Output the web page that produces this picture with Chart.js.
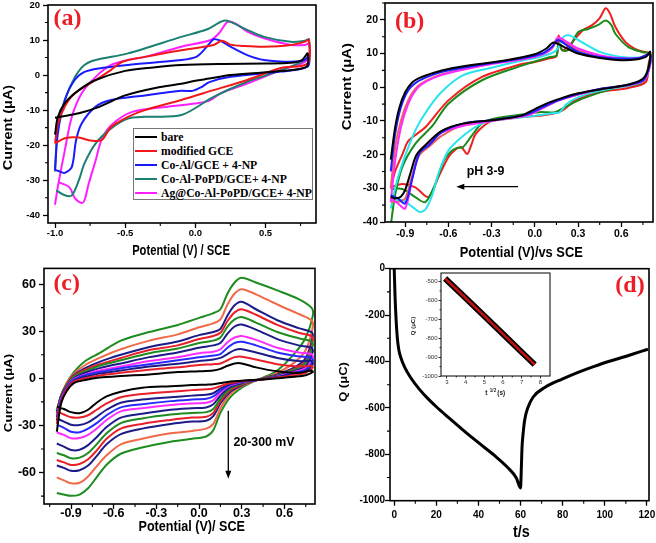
<!DOCTYPE html>
<html>
<head>
<meta charset="utf-8">
<script src="https://cdn.jsdelivr.net/npm/chart.js@4.4.1/dist/chart.umd.min.js"></script>
<style>
  body { margin: 0; background: #fff; width: 656px; height: 543px; position: relative; overflow: hidden; }
  canvas { position: absolute; }
  #legA { position: absolute; left: 133px; top: 128px; width: 180px; height: 72px; border: 1px solid #777;
          background: #fff; font: bold 11.7px "Liberation Serif", serif; color: #000; box-sizing: border-box; padding-top: 1px; }
  #legA .row { display: flex; align-items: center; height: 14px; white-space: nowrap; }
  #legA .sw { width: 22px; height: 2.5px; margin: 0 4px 0 1px; }
</style>
</head>
<body>
<canvas id="ca" width="328" height="268" style="left:0;top:0"></canvas>
<canvas id="cb" width="328" height="268" style="left:328px;top:0"></canvas>
<canvas id="cc" width="328" height="281" style="left:0;top:262px"></canvas>
<canvas id="cd" width="328" height="281" style="left:328px;top:262px"></canvas>
<canvas id="ci" width="152" height="132" style="left:404px;top:268px"></canvas>
<div id="legA"></div>
<script>
// ---------- (a) CVs of the electrodes, potential (V) and current (uA), scan order ----------
const aLabels = ['bare', 'modified GCE', 'Co-Al/GCE + 4-NP', 'Co-Al-PoPD/GCE+ 4-NP', 'Ag@Co-Al-PoPD/GCE+ 4-NP'];
const aBareV = [-1.0, -0.98, -0.93, -0.83, -0.71, -0.5, -0.3, -0.1, 0.2, 0.5, 0.68, 0.76, 0.8,
                0.795, 0.7, 0.5, 0.25, 0.1, 0.0, -0.1, -0.25, -0.5, -0.7, -0.83, -0.92, -1.0];
const aBareI = [-17, -12, -8, -4.3, -1.4, 1.2, 2.2, 2.9, 3.2, 3.3, 3.5, 4.3, 6.2,
                2.5, 1.5, 0.8, 0, -1, -1.6, -2.5, -3.4, -5.8, -9.3, -10.9, -11.6, -12.2];
const aModV = [-1.0, -0.98, -0.93, -0.86, -0.71, -0.6, -0.52, -0.36, -0.1, 0.13, 0.19, 0.25, 0.35, 0.49, 0.68, 0.78, 0.81,
               0.8, 0.61, 0.37, 0.13, -0.1, -0.36, -0.48, -0.6, -0.66, -0.7, -0.76, -0.83, -0.93, -1.0];
const aModI = [-19.5, -14, -9, -5.2, -1.4, 1.5, 3.8, 5.2, 7.1, 8.6, 9.8, 8.7, 8.3, 8.1, 8.6, 9.5, 10,
               3.3, 2, -1.4, -4.3, -7.1, -10, -11.9, -14.8, -18.3, -18.8, -18.6, -17.8, -18, -19.5];
const aCoV = [-1.0, -0.98, -0.93, -0.86, -0.79, -0.69, -0.48, -0.1, 0.01, 0.08, 0.13, 0.18, 0.25, 0.37, 0.49, 0.68, 0.78, 0.81,
              0.8, 0.61, 0.25, 0.1, 0.04, -0.02, -0.1, -0.36, -0.6, -0.71, -0.81, -0.85, -0.88, -0.93, -0.98, -1.0];
const aCoI = [-27, -16.7, -7.1, -1.4, 0.9, 1.9, 2.9, 4.3, 5.3, 8, 10.2, 9.8, 8.1, 5.7, 4.3, 3.8, 4.3, 5.7,
              2.4, 1, -0.5, -2, -3.5, -4.5, -4.5, -5.8, -7.1, -9, -13.8, -18.6, -26.2, -27.9, -27.3, -27];
const aPoV = [-1.0, -0.98, -0.93, -0.857, -0.79, -0.71, -0.48, -0.1, 0.08, 0.2, 0.25, 0.37, 0.49, 0.68, 0.78, 0.81,
              0.8, 0.61, 0.37, 0.13, -0.1, -0.36, -0.48, -0.6, -0.71, -0.79, -0.83, -0.88, -0.93, -0.99];
const aPoI = [-27.5, -14.8, -7.1, -0.5, 2.9, 4.3, 6.2, 10.9, 13, 15.5, 15.2, 12.9, 10.9, 9.5, 9.8, 10.2,
              5, 1.4, -1.9, -6.2, -11.4, -11.9, -12.4, -15.2, -19.5, -25.2, -30, -34.3, -34.3, -32.9];
const aAgV = [-1.0, -0.98, -0.93, -0.88, -0.81, -0.71, -0.6, -0.48, -0.36, -0.1, 0.11, 0.17, 0.23, 0.29, 0.37, 0.49, 0.68, 0.78, 0.81,
              0.8, 0.61, 0.37, 0.18, 0.1, 0.0, -0.2, -0.45, -0.6, -0.67, -0.71, -0.76, -0.79, -0.81, -0.857, -0.9, -0.98];
const aAgI = [-37, -31.9, -21.4, -11.9, -5.2, -0.5, 2.9, 4.3, 5.2, 8.1, 10, 12, 15.2, 14.6, 12.4, 10.5, 8.6, 8.6, 9,
              4.3, 1.4, -2.4, -5.2, -7.3, -8.1, -9, -10.5, -14.3, -18.6, -24.3, -31, -35.7, -36.5, -35.2, -31.9, -30.5];
const aXTicks = [-1.0, -0.5, 0.0, 0.5];
const aXMinor = [-0.75, -0.25, 0.25, 0.75];
const aYTicks = [20, 10, 0, -10, -20, -30, -40];
const aYMinor = [15, 5, -5, -15, -25, -35];

// ---------- (b) pH 3-9 ----------
const bBlkV = [-1.0, -0.97, -0.94, -0.9, -0.85, -0.8, -0.7, -0.6, -0.4, -0.2, 0.0, 0.08, 0.13, 0.2, 0.3, 0.45, 0.6, 0.7, 0.77, 0.8,
               0.79, 0.75, 0.65, 0.5, 0.3, 0.2, 0.1, 0.0, -0.1, -0.3, -0.5, -0.65, -0.75, -0.82, -0.86, -0.9, -0.93, -0.97, -1.0];
const bBlkI = [-21.5, -12, -6, -1.5, 1.5, 2.8, 4.3, 5.4, 6.8, 8, 9.8, 11.5, 13.3, 12, 10, 8.7, 8, 8.2, 9, 10.5,
               6, 2.5, 0.8, -0.3, -1.8, -3, -4.5, -6.5, -8.5, -9.8, -10.8, -13, -16.8, -20, -25, -30.5, -32.5, -33, -32.5];
const bMidV = [-1.0, -0.97, -0.93, -0.88, -0.82, -0.75, -0.65, -0.5, -0.3, -0.1, 0.05, 0.12, 0.16, 0.22, 0.3, 0.45, 0.6, 0.72, 0.8,
               0.79, 0.75, 0.62, 0.45, 0.3, 0.15, 0.05, -0.05, -0.3, -0.5, -0.65, -0.73, -0.8, -0.85, -0.9, -0.95, -1.0];
const bBluI = [-25, -14, -6, -1, 1.5, 3, 4.5, 5.8, 7.2, 8.5, 10, 12, 14, 12.5, 10.5, 9, 8.5, 8.6, 9.8,
               5.5, 2, 0.5, -0.5, -2, -4, -6, -8, -9.8, -10.8, -13.5, -17, -19.5, -27, -34.5, -33, -32];
const bPnkI = [-30, -18, -10, -4, 0, 2, 3.8, 5.3, 7, 8.3, 9.8, 11.5, 14.5, 13, 11, 9.3, 8.5, 8.6, 9.5,
               5, 1.8, 0.4, -0.6, -2.2, -4.2, -6.3, -8.3, -10, -11.2, -14.5, -17.5, -20, -26, -33, -34, -34];
const bMagI = [-34, -22, -12, -5, -0.5, 1.8, 3.6, 5.2, 6.9, 8.2, 9.7, 11.8, 14.8, 13.5, 11.5, 9.5, 8.6, 8.6, 9.5,
               5, 1.8, 0.4, -0.6, -2.2, -4.2, -6.3, -8.3, -10, -11.5, -13.5, -16.5, -19, -27, -36, -34.5, -33];
const bCyaV = [-1.0, -0.97, -0.93, -0.88, -0.82, -0.75, -0.65, -0.5, -0.3, -0.1, 0.05, 0.15, 0.2, 0.24, 0.32, 0.45, 0.6, 0.72, 0.8,
               0.79, 0.75, 0.62, 0.45, 0.3, 0.22, 0.17, 0.12, 0.0, -0.1, -0.3, -0.37, -0.48, -0.6, -0.67, -0.71, -0.76, -0.8, -0.85, -0.92, -1.0];
const bCyaI = [-36, -30, -24, -18, -12, -7, -1.5, 3.5, 5.8, 7.8, 9.2, 11, 15, 15.4, 13.5, 10.5, 9, 8.8, 9.5,
               5, 1.8, 0.2, -1, -3, -5, -7.5, -7.7, -8.5, -9, -10, -10.8, -13.8, -18.8, -25.7, -31.7, -36.3, -37, -35.5, -33.5, -34];
const bRedV = [-1.0, -0.97, -0.92, -0.875, -0.76, -0.6, -0.37, -0.09, 0.0, 0.1, 0.15, 0.165, 0.19, 0.25, 0.33, 0.4, 0.45, 0.49, 0.52, 0.56, 0.63, 0.72, 0.8,
               0.79, 0.77, 0.65, 0.44, 0.28, 0.19, 0.05, -0.14, -0.3, -0.41, -0.44, -0.47, -0.51, -0.55, -0.6, -0.67, -0.74, -0.83, -0.92, -1.0];
const bRedI = [-30, -25, -20, -15.8, -11.9, -3.9, 3, 6.9, 7.5, 8.6, 9.2, 15.3, 11, 12.9, 16.8, 18.5, 20.5, 23.4, 22, 17.8, 13.4, 10.9, 10,
               7, 1.5, -0.2, -1.5, -3.9, -6.9, -8.4, -8.9, -10, -13.8, -17, -19.8, -17.8, -18.5, -20.8, -26.7, -32.6, -29.7, -28.7, -29.7];
const bGrnV = [-1.0, -0.97, -0.92, -0.83, -0.71, -0.6, -0.37, -0.09, 0.1, 0.15, 0.165, 0.19, 0.23, 0.3, 0.37, 0.44, 0.49, 0.53, 0.56, 0.65, 0.75, 0.8,
               0.79, 0.75, 0.56, 0.33, 0.21, 0.14, 0.03, -0.14, -0.3, -0.37, -0.44, -0.5, -0.54, -0.58, -0.63, -0.69, -0.76, -0.83, -0.92, -1.0];
const bGrnI = [-41, -32, -23.7, -16.8, -11.4, -4.9, 2, 6.4, 8.9, 9.4, 12.9, 11, 11, 16.3, 17.3, 18.5, 19.8, 18.5, 15.8, 11.9, 10.4, 10,
               6.5, 1.5, -0.2, -3.4, -5.9, -7.4, -7.4, -8.4, -9.5, -10.8, -14.5, -17.8, -18, -19, -21.7, -28.6, -34.1, -32.6, -30.2, -30.2];
const bXTicks = [-0.9, -0.6, -0.3, 0.0, 0.3, 0.6];
const bXMinor = [-0.75, -0.45, -0.15, 0.15, 0.45, 0.75];
const bYTicks = [20, 10, 0, -10, -20, -30, -40];
const bYMinor = [25, 15, 5, -5, -15, -25, -35];

// ---------- (c) scan rate 20-300 mV, common potential grids ----------
const cFwdV = [-1.0, -0.97, -0.93, -0.88, -0.8, -0.7, -0.55, -0.35, -0.15, 0.0, 0.1, 0.15, 0.2, 0.25, 0.3, 0.4, 0.55, 0.7, 0.79];
const cRevV = [0.8, 0.75, 0.67, 0.55, 0.45, 0.38, 0.3, 0.22, 0.15, 0.1, 0.05, -0.05, -0.2, -0.4, -0.55, -0.65, -0.72, -0.78, -0.84, -0.9, -0.95, -1.0];
const cColors = ['#000000', '#e8202a', '#1c1c88', '#2a2aff', '#ff2cff', '#1c1c88', '#1e8c1e', '#e8202a', '#1c1c88', '#f06a4a', '#1e8c1e'];
const cFwdI = [
  [-34, -16, -8, -3, -1, 0.5, 1.5, 2.5, 4, 4.5, 5, 6, 8, 9.5, 9.5, 7, 4.5, 3.5, 5],
  [-29, -15, -7, -2, 0, 1.8, 3.5, 5.5, 7, 8.5, 9, 9.5, 11.5, 13.5, 13.8, 12, 9, 7.5, 8],
  [-27, -15, -7, -1.5, 1, 3, 5, 7.5, 9.3, 11, 12, 13, 15.5, 18, 18.6, 16.5, 13, 11, 11],
  [-25, -14, -6.5, -1, 2, 4, 6.5, 9, 11.5, 13.5, 14.5, 15.5, 19.5, 22.5, 23.3, 21, 16.5, 14, 13],
  [-24, -13, -6, -0.5, 2.5, 5, 7.5, 11, 13.5, 16, 17, 18.5, 23, 26, 27, 24.5, 19.5, 16.5, 15.5],
  [-22, -12, -5, 0, 3.5, 6.5, 9.5, 13.5, 16.5, 19.5, 21, 22.5, 28.5, 33, 34.3, 31, 25, 21, 19.5],
  [-21, -11, -4.5, 1, 4.5, 8, 11.5, 16, 19, 22.5, 24, 26, 33, 37.5, 39, 35.5, 29.5, 25.5, 23.5],
  [-21, -11, -4, 1.5, 5.5, 9, 13, 18, 21, 25, 27, 29, 36.5, 42, 44, 40.5, 34, 29, 27],
  [-22, -11, -4, 2, 6.5, 10.5, 15, 20, 23.5, 27.5, 29.5, 31.5, 40, 46.5, 48.7, 44, 37, 32, 29.5],
  [-22, -11, -3, 3, 8.5, 13, 18.5, 24, 28, 32.5, 35, 37.5, 47, 54, 56.8, 53.5, 47, 41, 37],
  [-24, -12, -3, 4, 11, 16, 24, 29.5, 34, 38.5, 41.5, 44, 54, 61, 64, 61, 56, 50.5, 45]
];
const cRevI = [
  [4, 2, 1, 0, -0.7, -1, -1.5, -2, -3, -3.8, -4, -4.3, -5, -6, -8.5, -11.5, -15.5, -20, -22.2, -21.5, -19.5, -18],
  [7, 3.5, 2, 0.5, -0.7, -1.1, -1.8, -3, -5, -6.5, -7, -7.5, -8.5, -10, -12, -16, -20, -23.5, -25, -24.8, -23, -21],
  [9, 4.5, 3, 0.8, -0.6, -1.2, -2, -3.5, -6.5, -9.5, -10.5, -11, -12, -13.5, -15.5, -20, -24.5, -28, -29.7, -29.5, -27.5, -25.5],
  [11, 5.5, 3.5, 1, -0.5, -1.3, -2.2, -4, -8, -11.5, -13, -13.5, -14.5, -16.5, -18.5, -23.5, -28.5, -32, -34.3, -34, -31.5, -29.5],
  [13, 6.5, 4, 1.2, -0.5, -1.4, -2.5, -4.5, -9, -14, -15.5, -16, -17, -19, -21, -26.5, -32, -36, -38, -38.1, -36, -34.5],
  [17, 8, 4.5, 1.5, -0.4, -1.5, -3, -5.5, -11, -16.5, -18.5, -19, -20, -22.5, -25, -31, -37.5, -42.5, -45.5, -45.6, -43.5, -41.5],
  [21, 10, 5.5, 1.8, -0.3, -1.6, -3.5, -6.5, -13, -19.5, -21.5, -22, -23, -25.5, -28.5, -35, -42, -47.5, -50.5, -50.9, -49, -47.5],
  [24, 11, 6, 2, -0.2, -1.7, -4, -7.5, -14.5, -22, -24.5, -25, -26.5, -29, -32, -38.5, -46, -51.5, -54.5, -55.1, -53.5, -52],
  [27, 13, 7, 2.5, 0, -1.8, -4.5, -8.5, -16, -24, -27, -27.5, -29, -32, -35.5, -42, -49.5, -55.5, -58.5, -58.9, -57, -55.5],
  [33, 18, 10, 3.5, 0, -2, -5, -10, -19, -29, -32, -33.5, -35, -38.5, -42, -49, -56, -62.5, -66.5, -66.8, -65, -63],
  [40, 26, 15.7, 5, 0.5, -2, -6, -12, -22, -33, -37, -38.5, -40.3, -44, -48, -55, -63, -70, -74, -74.8, -74, -73]
];
const cXTicks = [-0.9, -0.6, -0.3, 0.0, 0.3, 0.6];
const cXMinor = [-1.05, -0.75, -0.45, -0.15, 0.15, 0.45, 0.75];
const cYTicks = [60, 30, 0, -30, -60];
const cYMinor = [45, 15, -15, -45, -75];

// ---------- (d) chronocoulometry, t (s) and Q (uC) ----------
const dTime = [0, 0.4, 0.9, 1.5, 2.2, 3.2, 5, 8, 12, 16, 20, 26, 32, 40, 48, 54, 58, 60,
               60.3, 60.7, 61.2, 62, 63.5, 66, 71.5, 80, 87, 95, 103, 112, 120.5];
const dCharge = [0, -120, -220, -300, -350, -385, -425, -472, -520, -560, -595, -643, -690, -750, -808, -858, -902, -945,
                 -880, -770, -712, -650, -598, -553, -512, -475, -448, -421, -397, -372, -347];
const dXTicks = [0, 20, 40, 60, 80, 100, 120];
const dXMinor = [10, 30, 50, 70, 90, 110];
const dYTicks = [0, -200, -400, -600, -800, -1000];
const dYMinor = [-100, -300, -500, -700, -900];
// inset: Q vs t^1/2
const iRootT = [2.9, 4, 5, 6, 7, 7.7];
const iCharge = [-485, -588, -683, -778, -874, -940];
const iXTicks = [3, 4, 5, 6, 7, 8];
const iXMinor = [3.5, 4.5, 5.5, 6.5, 7.5];
const iYTicks = [-500, -600, -700, -800, -900, -1000];
const iYMinor = [-550, -650, -750, -850, -950];

// ---------- helpers ----------
const SANS = '"Liberation Sans", Arial, sans-serif';
const SERIF = '"Liberation Serif", "Times New Roman", serif';
const LABEL_RED = '#ee1c24';
Chart.defaults.font.family = SANS;
Chart.defaults.color = '#000';

const pairs = (xs, ys) => xs.map((x, i) => ({ x: x, y: ys[i] }));

function curve(label, color, xs, ys, width, tension) {
  return {
    label: label, data: pairs(xs, ys), borderColor: color, backgroundColor: color,
    borderWidth: width || 2, pointRadius: 0, showLine: true, fill: false,
    tension: tension === undefined ? 0.3 : tension
  };
}

function axis(o) {
  return {
    type: 'linear', min: o.min, max: o.max,
    afterBuildTicks: s => { s.ticks = o.major.map(v => ({ value: v })); },
    afterFit: s => {
      if (o.isX) { s.height = o.size; s.paddingLeft = 0; s.paddingRight = 0; }
      else { s.width = o.size; s.paddingTop = 0; s.paddingBottom = 0; }
    },
    ticks: {
      callback: o.fmt || (v => String(v)),
      font: { size: o.font, weight: o.weight || 'bold' }, color: o.color || '#000',
      padding: o.pad, autoSkip: false, maxRotation: 0, minRotation: 0
    },
    grid: { drawOnChartArea: false, drawTicks: true, tickLength: o.tick || 5, tickColor: '#000', tickWidth: o.tw || 1.3 },
    border: { display: false }
  };
}

// frame round the plot area and short minor ticks
const frame = {
  id: 'frame',
  afterDatasetsDraw(chart, args, opts) {
    const { ctx, chartArea: a, scales } = chart;
    ctx.save();
    ctx.strokeStyle = '#000';
    ctx.lineWidth = opts.width || 1.6;
    ctx.strokeRect(a.left, a.top, a.right - a.left, a.bottom - a.top);
    ctx.lineWidth = opts.minorWidth || 1.1;
    const len = opts.minorLen || 3;
    ctx.beginPath();
    (opts.minorX || []).forEach(v => {
      const p = scales.x.getPixelForValue(v);
      if (p >= a.left && p <= a.right) { ctx.moveTo(p, a.bottom); ctx.lineTo(p, a.bottom + len); }
    });
    (opts.minorY || []).forEach(v => {
      const p = scales.y.getPixelForValue(v);
      if (p >= a.top - 0.5 && p <= a.bottom) { ctx.moveTo(a.left, p); ctx.lineTo(a.left - len, p); }
    });
    ctx.stroke();
    ctx.restore();
  }
};

// titles, panel letters and arrows
const notes = {
  id: 'notes',
  afterDraw(chart, args, opts) {
    const ctx = chart.ctx;
    (opts.texts || []).forEach(t => {
      ctx.save();
      ctx.translate(t.x, t.y);
      ctx.scale(t.sx || 1, 1);
      if (t.rot) ctx.rotate(t.rot);
      ctx.font = t.font;
      ctx.fillStyle = t.color || '#000';
      ctx.textAlign = t.align || 'center';
      ctx.textBaseline = 'middle';
      ctx.fillText(t.text, 0, 0);
      ctx.restore();
    });
    (opts.arrows || []).forEach(a => {
      const ang = Math.atan2(a.y2 - a.y1, a.x2 - a.x1);
      const c = Math.cos(ang), s = Math.sin(ang);
      ctx.save();
      ctx.strokeStyle = '#000'; ctx.fillStyle = '#000'; ctx.lineWidth = 1.3;
      ctx.beginPath(); ctx.moveTo(a.x1, a.y1); ctx.lineTo(a.x2 - 6 * c, a.y2 - 6 * s); ctx.stroke();
      ctx.beginPath(); ctx.moveTo(a.x2, a.y2);
      ctx.lineTo(a.x2 - 8 * c + 3 * s, a.y2 - 8 * s - 3 * c);
      ctx.lineTo(a.x2 - 8 * c - 3 * s, a.y2 - 8 * s + 3 * c);
      ctx.closePath(); ctx.fill();
      ctx.restore();
    });
  }
};
Chart.register(frame, notes);

function baseOptions(pad, xAxis, yAxis, plug) {
  return {
    responsive: false, animation: false, devicePixelRatio: 1,
    layout: { padding: pad },
    scales: { x: xAxis, y: yAxis },
    plugins: Object.assign({ legend: { display: false }, tooltip: { enabled: false } }, plug)
  };
}
const V1 = v => v.toFixed(1);
const UP = -Math.PI / 2;

// ---------- panel (a) ----------
const aColors = ['#000000', '#f01818', '#1a1aff', '#1b8072', '#ff1eff'];
const chartA = new Chart(document.getElementById('ca'), {
  type: 'scatter',
  data: { datasets: [
    curve(aLabels[0], aColors[0], aBareV, aBareI),
    curve(aLabels[1], aColors[1], aModV, aModI),
    curve(aLabels[2], aColors[2], aCoV, aCoI),
    curve(aLabels[3], aColors[3], aPoV, aPoI),
    curve(aLabels[4], aColors[4], aAgV, aAgI)
  ] },
  options: baseOptions({ left: 0, top: 5, right: 12, bottom: 0 },
    axis({ isX: true, min: -1.05, max: 0.86, major: aXTicks, fmt: V1, size: 45, font: 9.5, pad: 0 }),
    axis({ min: -42.2, max: 20, major: aYTicks, size: 48, font: 9.5, pad: 3 }),
    {
      frame: { minorX: aXMinor, minorY: aYMinor },
      notes: { texts: [
        { text: '(a)', x: 67.5, y: 18.5, font: 'bold 24px ' + SERIF, color: LABEL_RED },
        { text: 'Potential (V) / SCE', x: 181, y: 251, font: 'bold 14px ' + SANS, sx: 0.8 },
        { text: 'Current (\u03bcA)', x: 9, y: 127.5, rot: UP, font: 'bold 14.5px ' + SANS, sx: 0.85 }
      ] }
    })
});

// legend box of (a), built from the chart's datasets
const leg = document.getElementById('legA');
chartA.data.datasets.forEach(ds => {
  const row = document.createElement('div');
  row.className = 'row';
  const sw = document.createElement('span');
  sw.className = 'sw';
  sw.style.background = ds.borderColor;
  const tx = document.createElement('span');
  tx.textContent = ds.label;
  row.appendChild(sw); row.appendChild(tx);
  leg.appendChild(row);
});

// ---------- panel (b) ----------
new Chart(document.getElementById('cb'), {
  type: 'scatter',
  data: { datasets: [
    curve('pH a', '#000000', bBlkV, bBlkI),
    curve('pH b', '#1f1fff', bMidV, bBluI),
    curve('pH c', '#ff2cff', bMidV, bMagI),
    curve('pH d', '#f0605a', bMidV, bPnkI),
    curve('pH e', '#28e4ee', bCyaV, bCyaI),
    curve('pH f', '#1a8a1a', bGrnV, bGrnI),
    curve('pH g', '#f01e1e', bRedV, bRedI)
  ] },
  options: baseOptions({ left: 0, top: 3, right: 3, bottom: 0 },
    axis({ isX: true, min: -1.04, max: 0.82, major: bXTicks, fmt: V1, size: 46, font: 10.5, pad: 1 }),
    axis({ min: -40, max: 25, major: bYTicks, size: 57, font: 10.5, pad: 2 }),
    {
      frame: { minorX: bXMinor, minorY: bYMinor },
      notes: {
        texts: [
          { text: '(b)', x: 81.7, y: 21.7, font: 'bold 24px ' + SERIF, color: LABEL_RED },
          { text: 'Potential (V)/vs SCE', x: 193.3, y: 252.5, font: 'bold 14.8px ' + SANS, sx: 0.87 },
          { text: 'Current (\u03bcA)', x: 20, y: 86.7, rot: UP, font: 'bold 14.8px ' + SANS, sx: 0.85 },
          { text: 'pH 3-9', x: 157.5, y: 171.7, font: 'bold 13px ' + SANS, sx: 0.95 }
        ],
        arrows: [{ x1: 190, y1: 186.7, x2: 128.3, y2: 186.7 }]
      }
    })
});

// ---------- panel (c) ----------
const cSets = cFwdI.map((up, k) => ({
  label: 'scan ' + (k + 1),
  data: pairs(cFwdV, up).concat(pairs(cRevV, cRevI[k])),
  borderColor: cColors[k], backgroundColor: cColors[k],
  borderWidth: 2, pointRadius: 0, showLine: true, fill: false, tension: 0.3
}));
new Chart(document.getElementById('cc'), {
  type: 'scatter',
  data: { datasets: cSets },
  options: baseOptions({ left: 0, top: 6.4, right: 13, bottom: 0 },
    axis({ isX: true, min: -1.09, max: 0.815, major: cXTicks, fmt: V1, size: 39, font: 12.5, pad: -3 }),
    axis({ min: -80, max: 70, major: cYTicks, size: 44, font: 12.5, pad: 3 }),
    {
      frame: { minorX: cXMinor, minorY: cYMinor },
      notes: {
        texts: [
          { text: '(c)', x: 66.7, y: 22, font: 'bold 24px ' + SERIF, color: LABEL_RED },
          { text: 'Potential (V)/ SCE', x: 191.7, y: 265, font: 'bold 14px ' + SANS, sx: 0.9 },
          { text: 'Current (\u03bcA)', x: 8.5, y: 131, rot: UP, font: 'bold 13.3px ' + SANS, sx: 0.85 },
          { text: '20-300 mV', x: 264, y: 180, font: 'bold 13px ' + SANS, sx: 0.95 }
        ],
        arrows: [{ x1: 228.3, y1: 148.7, x2: 228.3, y2: 216.7 }]
      }
    })
});

// ---------- panel (d) ----------
const dSet = curve('Q', '#000000', dTime, dCharge, 3, 0);
dSet.cubicInterpolationMode = 'monotone';
new Chart(document.getElementById('cd'), {
  type: 'scatter',
  data: { datasets: [dSet] },
  options: baseOptions({ left: 0, top: 6.7, right: 7, bottom: 0 },
    axis({ isX: true, min: -2, max: 121, major: dXTicks, size: 42.3, font: 10, pad: 4 }),
    axis({ min: -1000, max: 0, major: dYTicks, size: 62, font: 10, pad: 0 }),
    {
      frame: { minorX: dXMinor, minorY: dYMinor },
      notes: { texts: [
        { text: '(d)', x: 302, y: 23.5, font: 'bold 24px ' + SERIF, color: LABEL_RED },
        { text: 't/s', x: 193.3, y: 271, font: 'bold 16px ' + SANS, sx: 0.9 },
        { text: 'Q (\u03bcC)', x: 16, y: 120, rot: UP, font: 'bold 13px ' + SANS, sx: 0.9 }
      ] }
    })
});

// inset of (d)
new Chart(document.getElementById('ci'), {
  type: 'scatter',
  data: { datasets: [
    curve('fit', '#c01010', iRootT, iCharge, 2.5, 0),
    curve('Q', '#000000', iRootT, iCharge, 6, 0)
  ] },
  options: baseOptions({ left: 0, top: 5, right: 6, bottom: 0 },
    axis({ isX: true, min: 2.68, max: 8.52, major: iXTicks, size: 24, font: 6, weight: 'normal', color: '#333', pad: 0, tick: 2.5, tw: 0.8 }),
    axis({ min: -1000, max: -456, major: iYTicks, size: 37, font: 6, weight: 'normal', color: '#333', pad: 1, tick: 2.5, tw: 0.8 }),
    {
      frame: { width: 1, minorX: iXMinor, minorY: iYMinor, minorLen: 1.5, minorWidth: 0.8 },
      notes: { texts: [
        { text: 'Q (\u03bcC)', x: 9, y: 58, rot: UP, font: 'bold 6px ' + SANS, color: '#222' },
        { text: 't', x: 82.3, y: 125, font: 'bold 6.5px ' + SANS, color: '#222' },
        { text: '1/2', x: 89, y: 122.5, font: 'bold 4.5px ' + SANS, color: '#222' },
        { text: '(s)', x: 97.3, y: 125, font: 'bold 6.5px ' + SANS, color: '#222' }
      ] }
    })
});
</script>
</body>
</html>
